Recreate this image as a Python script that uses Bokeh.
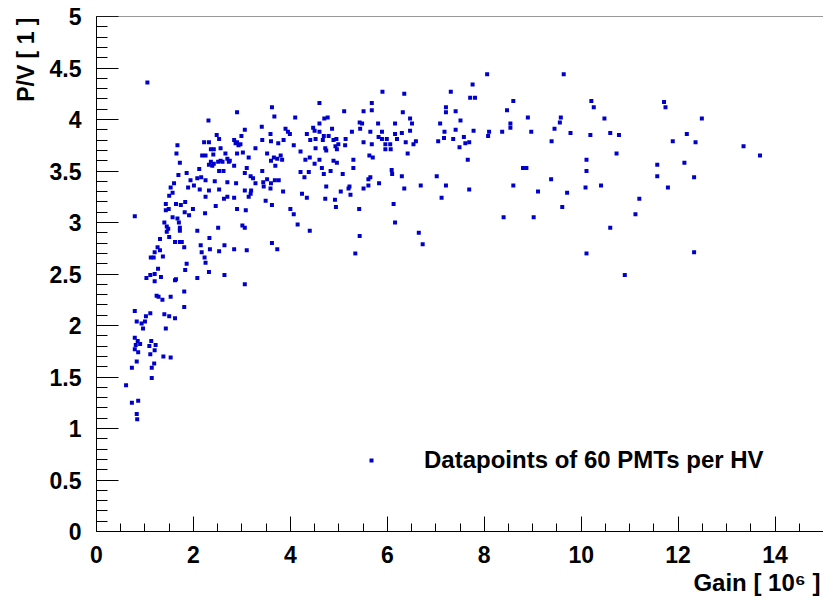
from bokeh.plotting import figure
from bokeh.models import (Range1d, SingleIntervalTicker, CustomJSTickFormatter, Title,
                          Legend, LegendItem, Span, ColumnDataSource)
from bokeh.embed import file_html
from bokeh.resources import INLINE

# ---- data: (gain [10^6], P/V) ----
points_low_gain = [
    (1.05, 4.36),
    (3.62, 4.12), (2.90, 4.07), (3.67, 4.03), (2.31, 3.99), (4.10, 4.02), (3.41, 3.93), (3.06, 3.90),
    (3.90, 3.91), (3.95, 3.88), (3.99, 3.86), (2.48, 3.85), (2.53, 3.81), (2.99, 3.84), (3.59, 3.86),
    (2.84, 3.80), (2.90, 3.78), (2.97, 3.76), (2.93, 3.75), (2.87, 3.77), (2.22, 3.78), (2.32, 3.78),
    (1.67, 3.75), (2.56, 3.72), (2.42, 3.71), (2.36, 3.71), (3.28, 3.72), (3.42, 3.80), (3.60, 3.79),
    (3.75, 3.77), (3.86, 3.80), (4.07, 3.75), (3.02, 3.68), (2.90, 3.67), (2.66, 3.67), (1.65, 3.67),
    (2.18, 3.65), (2.25, 3.65), (2.41, 3.66), (2.70, 3.62), (2.75, 3.60), (2.56, 3.60), (2.60, 3.59),
    (3.14, 3.63), (3.52, 3.67), (3.66, 3.63), (3.73, 3.62), (3.80, 3.65), (3.83, 3.61), (3.60, 3.60),
    (1.72, 3.58), (2.36, 3.59), (2.39, 3.55), (2.32, 3.56), (2.42, 3.57), (2.51, 3.59), (2.73, 3.59),
    (3.69, 3.55), (2.84, 3.55), (2.53, 3.50), (2.62, 3.50), (2.12, 3.52), (3.42, 3.50), (3.10, 3.53),
    (1.69, 3.46), (1.86, 3.48), (3.06, 3.48), (3.18, 3.45), (3.23, 3.43), (2.16, 3.44), (2.08, 3.43),
    (2.25, 3.41), (1.94, 3.41), (2.44, 3.40), (2.70, 3.39), (2.88, 3.38), (3.28, 3.38), (3.44, 3.39),
    (3.52, 3.42), (3.60, 3.38), (3.68, 3.41), (3.76, 3.41), (1.60, 3.38), (1.53, 3.34), (1.89, 3.34),
    (2.01, 3.36), (2.13, 3.32), (2.32, 3.31), (2.53, 3.32), (3.06, 3.31), (3.19, 3.31), (3.18, 3.28),
    (3.45, 3.35), (3.59, 3.33), (3.85, 3.30), (1.57, 3.29), (1.50, 3.26), (1.43, 3.18), (1.49, 3.13),
    (1.64, 3.18), (1.74, 3.17), (1.83, 3.20), (2.25, 3.25), (2.46, 3.16), (2.63, 3.23), (2.70, 3.25),
    (2.84, 3.24), (2.90, 3.13), (3.08, 3.12), (3.14, 3.25), (3.49, 3.21), (3.62, 3.17), (4.00, 3.13),
    (4.07, 3.08), (1.99, 3.13), (1.91, 3.07), (1.82, 3.10), (1.43, 3.12), (2.24, 3.09), (0.79, 3.06),
    (1.40, 3.00), (1.45, 2.96), (1.48, 2.94), (1.57, 3.05), (1.67, 3.04), (1.70, 3.00), (1.72, 2.95),
    (1.72, 2.92), (1.45, 2.91), (1.50, 2.86), (1.31, 2.84), (1.26, 2.76), (1.31, 2.73), (1.20, 2.71),
    (1.12, 2.66), (1.37, 2.67), (1.18, 2.66), (2.08, 2.92), (2.33, 2.85), (2.51, 2.95), (3.01, 2.97),
    (3.06, 2.95), (4.15, 2.98), (1.62, 2.81), (1.72, 2.81), (1.76, 2.81), (1.81, 2.76), (2.15, 2.78),
    (2.17, 2.71), (2.23, 2.66), (2.25, 2.61), (2.34, 2.74), (2.53, 2.72), (2.64, 2.78), (2.84, 2.74),
    (3.10, 2.73), (3.62, 2.80), (3.73, 2.74), (1.86, 2.60), (1.83, 2.54), (1.64, 2.45), (1.27, 2.55),
    (1.20, 2.50), (1.11, 2.49), (1.03, 2.46), (1.33, 2.47), (2.08, 2.46), (2.32, 2.52), (2.64, 2.49),
    (1.20, 2.43), (1.62, 2.44), (3.06, 2.40), (1.24, 2.29), (1.28, 2.28), (1.53, 2.28), (1.36, 2.25),
    (1.81, 2.33), (1.81, 2.18), (0.79, 2.14), (1.11, 2.12), (1.02, 2.09), (1.40, 2.11), (1.50, 2.09),
    (1.62, 2.07), (0.83, 2.04), (1.00, 2.04), (0.93, 2.02), (0.96, 1.97), (1.43, 1.97), (0.79, 1.88),
    (0.85, 1.85), (0.90, 1.82), (0.81, 1.81), (0.79, 1.77), (0.86, 1.74), (1.13, 1.85), (1.09, 1.80),
    (1.22, 1.81), (1.20, 1.76), (1.11, 1.72), (1.38, 1.70), (1.53, 1.69), (0.83, 1.65), (1.19, 1.63),
    (0.73, 1.59), (1.14, 1.59), (1.14, 1.49), (0.61, 1.42), (0.73, 1.25), (0.86, 1.27), (0.83, 1.14),
    (0.84, 1.09),
]

points_mid_gain = [
    (8.06, 4.44), (7.76, 4.34), (7.71, 4.21), (7.81, 4.21), (7.31, 4.27), (5.90, 4.27), (6.35, 4.25),
    (4.60, 4.16), (5.68, 4.16), (8.60, 4.18), (5.11, 4.08), (5.51, 4.08), (5.68, 4.09), (6.32, 4.07),
    (7.21, 4.12), (7.21, 4.07), (7.41, 4.08), (8.47, 4.09), (8.90, 4.02), (4.70, 4.01), (4.77, 4.02),
    (5.43, 3.97), (5.48, 3.96), (6.47, 4.01), (6.51, 3.96), (5.81, 3.96), (6.16, 3.96), (7.09, 3.96),
    (7.51, 3.99), (8.54, 3.96), (8.54, 3.92), (4.60, 3.96), (4.47, 3.92), (4.50, 3.89), (4.86, 3.91),
    (4.34, 3.86), (4.60, 3.88), (5.27, 3.88), (5.44, 3.91), (5.65, 3.88), (5.89, 3.88), (6.16, 3.86),
    (6.30, 3.87), (6.47, 3.89), (7.18, 3.88), (7.41, 3.90), (7.78, 3.89), (8.10, 3.88), (8.37, 3.88),
    (8.97, 3.88), (9.45, 3.91), (4.69, 3.84), (4.67, 3.80), (4.41, 3.80), (4.52, 3.81), (4.79, 3.84),
    (4.89, 3.80), (4.95, 3.81), (4.99, 3.76), (4.93, 3.74), (5.13, 3.75), (5.14, 3.81), (5.51, 3.78),
    (5.68, 3.76), (5.82, 3.83), (5.89, 3.81), (5.99, 3.81), (5.96, 3.76), (6.06, 3.76), (6.20, 3.81),
    (6.38, 3.78), (6.54, 3.76), (6.59, 3.79), (7.05, 3.79), (7.17, 3.82), (7.36, 3.81), (7.58, 3.83),
    (7.61, 3.77), (7.69, 3.78), (8.08, 3.84), (9.39, 3.79), (7.49, 3.73), (4.21, 3.69), (4.52, 3.72),
    (4.72, 3.72), (4.74, 3.70), (4.96, 3.71), (5.96, 3.71), (6.07, 3.71), (6.42, 3.67), (5.63, 3.65),
    (5.70, 3.63), (4.40, 3.63), (4.31, 3.61), (4.60, 3.61), (4.89, 3.60), (4.96, 3.58), (5.30, 3.61),
    (7.66, 3.61), (4.50, 3.57), (4.21, 3.49), (4.38, 3.49), (4.65, 3.53), (4.83, 3.50), (5.30, 3.53),
    (5.08, 3.47), (6.09, 3.51), (6.10, 3.47), (6.30, 3.45), (4.29, 3.44), (4.69, 3.47), (5.65, 3.44),
    (5.61, 3.42), (5.83, 3.38), (7.02, 3.45), (8.80, 3.53), (8.87, 3.53), (9.38, 3.42), (4.74, 3.35),
    (5.22, 3.35), (5.20, 3.33), (5.51, 3.33), (5.61, 3.36), (6.35, 3.33), (6.69, 3.36), (7.21, 3.36),
    (7.69, 3.32), (8.60, 3.36), (9.11, 3.30), (4.24, 3.28), (4.34, 3.24), (4.72, 3.23), (4.92, 3.22),
    (5.24, 3.27), (5.04, 3.30), (6.13, 3.18), (7.12, 3.24), (4.94, 3.15), (5.42, 3.13), (8.40, 3.05),
    (9.02, 3.05), (4.40, 2.92), (6.16, 3.00), (5.43, 2.87), (6.65, 2.90), (6.73, 2.79), (5.34, 2.70),
]

points_high_gain = [
    (9.64, 4.44), (10.21, 4.18), (10.26, 4.12), (10.48, 4.01), (9.58, 4.02), (9.56, 3.97), (9.78, 3.87),
    (10.19, 3.85), (10.60, 3.87), (10.78, 3.85), (10.73, 3.67), (10.11, 3.61), (10.11, 3.50),
    (9.71, 3.29), (10.09, 3.34), (10.41, 3.36), (9.61, 3.15), (11.20, 3.23), (11.12, 3.08),
    (10.60, 2.95), (10.11, 2.70), (10.90, 2.49), (11.71, 4.17), (11.74, 4.12), (12.49, 4.01),
    (12.18, 3.86), (12.36, 3.78), (11.89, 3.79), (12.13, 3.58), (11.57, 3.56), (11.57, 3.45),
    (12.33, 3.44), (11.79, 3.34), (12.33, 2.71), (13.35, 3.74), (13.69, 3.65),
]

x_limits = (0, 15)
y_limits = (0, 5)
x_tick_step = 2
y_tick_step = 0.5
x_title = "Gain [ 10\u2076 ]"
y_title = "P/V [ 1 ]"
legend_text = "Datapoints of 60 PMTs per HV"

all_points = points_low_gain + points_mid_gain + points_high_gain
gain = [pt[0] for pt in all_points]
pv = [pt[1] for pt in all_points]

FONT = "Liberation Sans"
BLUE = "#0000cc"

p = figure(width=823, height=599, x_range=Range1d(*x_limits), y_range=Range1d(*y_limits),
           output_backend="svg", toolbar_location=None,
           min_border_left=96, min_border_right=0, min_border_top=16, min_border_bottom=68)
p.grid.visible = False
p.outline_line_color = None
p.background_fill_color = "white"
p.border_fill_color = "white"

src = ColumnDataSource(dict(gain=gain, pv=pv))
r = p.scatter("gain", "pv", source=src, marker="square", size=4,
              fill_color=BLUE, line_color=None)

# axes in ROOT style: ticks pointing inward
xa = p.xaxis[0]
xa.ticker = SingleIntervalTicker(interval=x_tick_step, num_minor_ticks=4)
xa.major_tick_in = 15
xa.major_tick_out = 0
xa.minor_tick_in = 8
xa.minor_tick_out = 0
xa.major_label_standoff = 14
ya = p.yaxis[0]
ya.ticker = SingleIntervalTicker(interval=y_tick_step, num_minor_ticks=5)
ya.major_tick_in = 22
ya.major_tick_out = 0
ya.minor_tick_in = 11
ya.minor_tick_out = 0
ya.major_label_standoff = 15
ya.formatter = CustomJSTickFormatter(code="return String(Math.round(tick*10)/10);")
for ax in (xa, ya):
    ax.axis_line_color = "black"
    ax.major_tick_line_color = "black"
    ax.minor_tick_line_color = "black"
    ax.major_label_text_font = FONT
    ax.major_label_text_font_style = "bold"
    ax.major_label_text_font_size = "23px"
    ax.major_label_text_color = "black"

# top frame line
p.add_layout(Span(location=y_limits[1], dimension="width", line_color="#333333", line_width=1))

# axis titles, ROOT style: aligned to the end of the axis
p.add_layout(Title(text=x_title, align="right", offset=3, standoff=3,
                   text_font=FONT, text_font_style="bold", text_font_size="24px",
                   text_color="black"), "below")
p.add_layout(Title(text=y_title, align="right", offset=1, standoff=16,
                   text_font=FONT, text_font_style="bold", text_font_size="23px",
                   text_color="black"), "left")

legend = Legend(items=[LegendItem(label=legend_text, renderers=[r])],
                location=(270, 57), padding=0, margin=0, spacing=0,
                glyph_width=10, glyph_height=10, label_standoff=48,
                label_text_font=FONT, label_text_font_style="bold",
                label_text_font_size="24px", label_text_color="black",
                border_line_color=None, background_fill_alpha=0)
p.add_layout(legend)

open("out.html", "w").write(file_html(p, INLINE))
